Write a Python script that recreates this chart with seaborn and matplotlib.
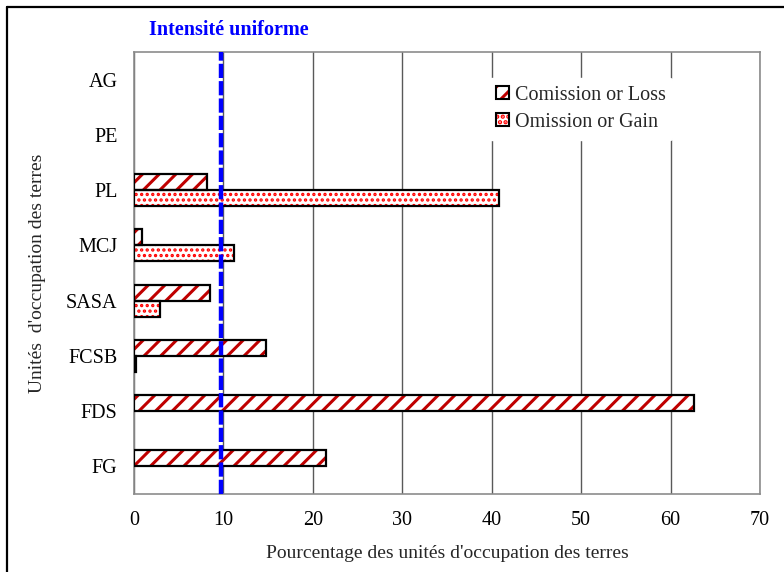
import matplotlib
matplotlib.use('Agg')
import matplotlib.pyplot as plt
import seaborn as sns
import pandas as pd
from matplotlib.patches import Rectangle, Patch
from matplotlib.lines import Line2D

categories = ['AG', 'PE', 'PL', 'MCJ', 'SASA', 'FCSB', 'FDS', 'FG']
loss = [0, 0, 8.2, 0.9, 8.5, 14.8, 62.6, 21.5]
gain = [0, 0, 40.8, 11.2, 2.9, 0.2, 0, 0]
series = ['Comission or Loss', 'Omission or Gain']
uniform_intensity = 9.7
xticks = [0, 10, 20, 30, 40, 50, 60, 70]

df = pd.DataFrame({
    'unit': categories * 2,
    'value': loss + gain,
    'series': [series[0]] * len(categories) + [series[1]] * len(categories),
})

sns.set_theme(style='white')
plt.rcParams['font.family'] = ['Liberation Serif', 'DejaVu Serif']
plt.rcParams['hatch.linewidth'] = 2.2

RED = '#C00000'
DOTRED = '#FF0000'
hatches = ['//', '...']
hatch_lw = [2.2, 1.6]


def style_patch(p, h, hlw, color):
    p.set_facecolor('white')
    p.set_edgecolor(color)
    p.set_hatch(h)
    p.set_linewidth(0)
    if hasattr(p, 'set_hatch_linewidth'):
        p.set_hatch_linewidth(hlw)


fig = plt.figure(figsize=(7.84, 5.72), dpi=100)
ax = fig.add_axes([134 / 784, 1 - 494 / 572, (760 - 134) / 784, (494 - 52) / 572])
sns.barplot(data=df, x='value', y='unit', hue='series', order=categories,
            hue_order=series, orient='h', width=0.58, ax=ax,
            palette=['white', 'white'], saturation=1, errorbar=None, legend=False)

colors = [RED, DOTRED]
for cont, h, hlw, c in zip(ax.containers, hatches, hatch_lw, colors):
    for p in cont:
        style_patch(p, h, hlw, c)
        p.set_zorder(2)
        if p.get_width() > 0:
            ax.add_patch(Rectangle(p.get_xy(), p.get_width(), p.get_height(),
                                   fill=False, edgecolor='black', lw=1.6, zorder=3))

ax.axvline(uniform_intensity, color='#0000FF', lw=3.2, ls=(0, (3.2, 0.7)), zorder=4)

ax.set_xlim(0, 70)
ax.set_xticks(xticks)
ax.xaxis.grid(True, color='#595959', lw=1)
ax.set_axisbelow(True)
for s in ax.spines.values():
    s.set_color('#8c8c8c')
    s.set_linewidth(1.2)
ax.tick_params(axis='both', length=0, labelsize=14.5, colors='black')
ax.tick_params(axis='y', pad=12)
ax.tick_params(axis='x', pad=12)
ax.set_xlabel("Pourcentage des unités d'occupation des terres", fontsize=14, labelpad=11)
ax.set_ylabel("Unités  d'occupation des terres", fontsize=14, labelpad=14)

handles = []
for h, hlw, c in zip(hatches, hatch_lw, colors):
    hp = Patch()
    style_patch(hp, h, hlw, c)
    handles.append((hp, Patch(fill=False, edgecolor='black', lw=1.5)))

leg = ax.legend(handles, series, loc='upper left', bbox_to_anchor=(0.55, 0.965),
                frameon=True, fontsize=14.5, handlelength=0.6, handleheight=0.6,
                handletextpad=0.3, labelspacing=0.4, borderpad=0.4)
leg.get_frame().set_edgecolor('white')
leg.get_frame().set_alpha(1)

fig.text(229 / 784, 1 - 30 / 572, 'Intensité uniforme', color='#0000FF',
         fontweight='bold', ha='center', va='center', fontsize=14.5)

fig.add_artist(Line2D([7 / 784, 1], [1 - 7 / 572, 1 - 7 / 572],
                      transform=fig.transFigure, color='black', lw=1.6))
fig.add_artist(Line2D([7 / 784, 7 / 784], [0, 1 - 7 / 572],
                      transform=fig.transFigure, color='black', lw=1.6))

fig.savefig('out.png', dpi=100)
